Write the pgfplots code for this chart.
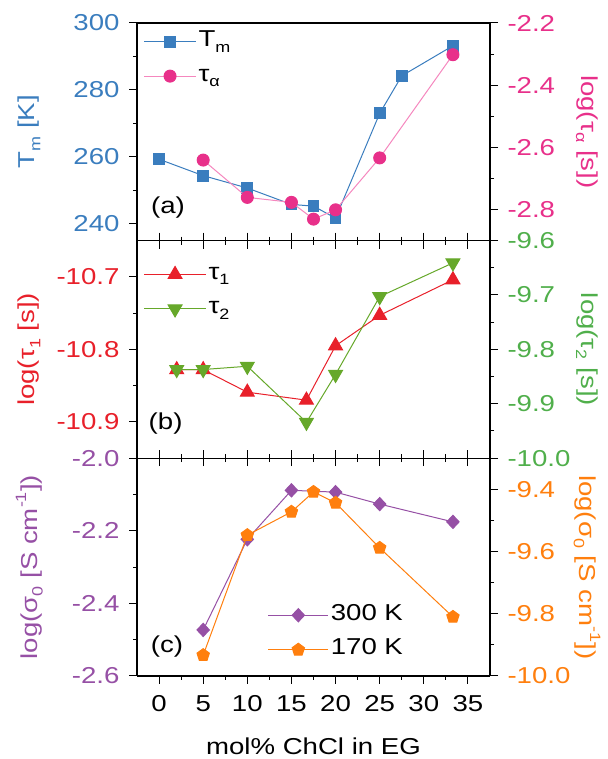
\documentclass[border=0pt]{standalone}
\usepackage{fontspec}
\setmainfont[FakeStretch=1.2]{Liberation Sans}
\usepackage{pgfplots}
\pgfplotsset{compat=1.18}

\definecolor{cTm}{RGB}{58,125,190}
\definecolor{cTa}{RGB}{232,48,138}
\definecolor{cTaL}{RGB}{245,135,190}
\definecolor{cT1}{RGB}{232,32,42}
\definecolor{cT2}{RGB}{102,168,42}
\definecolor{cT2t}{RGB}{80,175,75}
\definecolor{cPu}{RGB}{150,80,165}
\definecolor{cOr}{RGB}{255,127,14}

\newcommand\bigf{\fontsize{23}{27}\selectfont}
\newcommand\sub[1]{\raisebox{-0.45ex}{\fontsize{15}{17}\selectfont #1}}
\newcommand\sups[1]{\raisebox{0.9ex}{\fontsize{15}{17}\selectfont #1}}

\pgfplotsset{
  panel/.style={
    scale only axis, width=353pt, height=217.6pt,
    xmin=-2.5, xmax=37.5, xtick={0,5,...,35}, minor x tick num=1,
    minor y tick num=1,
    tick align=outside, major tick length=8pt, minor tick length=4pt,
    every tick/.style={black, line width=1pt},
    axis line style={line width=1.1pt},
    /pgf/number format/assume math mode=true,
    tick label style={font=\bigf},
    xticklabel style={yshift=-8pt},
    every axis label/.append style={font=\bigf},
    legend style={draw=none, fill=none, font=\bigf, inner sep=0pt,
      row sep=8.5pt, nodes={inner sep=2pt, text height=16pt, text depth=6pt}},
    legend cell align=left,
  },
  leftax/.style={panel, axis y line*=left,
    yticklabel style={xshift=-6pt},
    every axis y label/.style={at={(axis description cs:-0.305,0.5)},
      anchor=center, rotate=90}},
  rightax/.style={panel, axis y line*=right, axis x line=none,
    yticklabel style={xshift=6pt},
    every axis y label/.style={at={(axis description cs:1.275,0.5)},
      anchor=center, rotate=-90}},
  onedec/.style={yticklabel style={/pgf/number format/fixed,
      /pgf/number format/fixed zerofill, /pgf/number format/precision=1}},
  legline/.style={legend image code/.code={
      \draw[mark repeat=2, mark phase=2, ##1] plot coordinates
        {(0pt,0pt) (#1,0pt) (2*#1,0pt)};}},
}

\pgfplotstableread{
x     Tm
0     259.3
5     254.4
10    250.7
15    245.8
17.5  245.3
20    241.7
25    273.0
27.5  284.2
33.3  293.2
}\tabTm

\pgfplotstableread{
x     ta
5     -2.641
10    -2.761
15    -2.777
17.5  -2.831
20    -2.801
25    -2.634
33.3  -2.302
}\tabTa

\pgfplotstableread{
x     t1       t2
2     -10.828  -9.837
5     -10.828  -9.837
10    -10.859  -9.831
16.7  -10.870  -9.934
20    -10.795  -9.846
25    -10.753  -9.703
33.3  -10.704  -9.641
}\tabTau

\pgfplotstableread{
x     s300
5     -2.473
10    -2.223
15    -2.088
20    -2.093
25    -2.126
33.3  -2.175
}\tabShot

\pgfplotstableread{
x     s170
5     -9.933
10    -9.547
15    -9.472
17.5  -9.408
20    -9.443
25    -9.588
33.3  -9.810
}\tabScold

\begin{document}
\begin{tikzpicture}
\useasboundingbox (0,0) rectangle (607pt,759pt);

% ---------- (a) melting temperature and alpha relaxation time ----------
\begin{axis}[leftax, at={(137pt,518.4pt)}, anchor=south west,
  xtick pos=bottom, xticklabels={},
  ymin=235, ymax=300, ytick={240,260,280,300},
  yticklabel style={color=cTm},
  ylabel={T\sub{m} [K]}, ylabel style={color=cTm}]
  \addplot[cTm, line width=1pt, mark=square*, mark size=5.4pt,
    mark options={fill=cTm, draw=cTm}] table[x=x, y=Tm] {\tabTm};
\end{axis}
\begin{axis}[rightax, at={(137pt,518.4pt)}, anchor=south west,
  ymin=-2.9, ymax=-2.2, ytick={-2.8,-2.6,-2.4,-2.2}, onedec,
  yticklabel style={color=cTa},
  ylabel={log(τ\sub{α} [s])}, ylabel style={color=cTa},
  legline=26pt,
  legend style={at={(axis description cs:0.018,0.975)}, anchor=north west}]
  \addlegendimage{cTm, line width=1pt, mark=square*, mark size=5.4pt,
    mark options={fill=cTm, draw=cTm}}
  \addlegendentry{T\sub{m}}
  \addplot[cTaL, line width=1pt, mark=*, mark size=6pt,
    mark options={fill=cTa, draw=cTa}] table[x=x, y=ta] {\tabTa};
  \addlegendentry{τ\sub{α}}
  \node[font=\bigf] at (axis description cs:0.088,0.15) {(a)};
\end{axis}

% ---------- (b) fast relaxation times ----------
\begin{axis}[leftax, at={(137pt,300.8pt)}, anchor=south west,
  xticklabels={},
  ymin=-10.95, ymax=-10.65, ytick={-10.9,-10.8,-10.7}, onedec,
  yticklabel style={color=cT1},
  ylabel={log(τ\sub{1} [s])}, ylabel style={color=cT1}]
  \addplot[cT1, line width=1pt, mark=triangle*, mark size=8pt,
    mark options={fill=cT1, draw=cT1}] table[x=x, y=t1] {\tabTau};
\end{axis}
\begin{axis}[rightax, at={(137pt,300.8pt)}, anchor=south west,
  ymin=-10.0, ymax=-9.6, ytick={-10.0,-9.9,-9.8,-9.7,-9.6}, onedec,
  yticklabel style={color=cT2t},
  ylabel={log(τ\sub{2} [s])}, ylabel style={color=cT2t},
  legline=31pt,
  legend style={at={(axis description cs:0.018,0.905)}, anchor=north west}]
  \addlegendimage{cT1, line width=1pt, mark=triangle*, mark size=8pt,
    mark options={fill=cT1, draw=cT1}}
  \addlegendentry{τ\sub{1}}
  \addplot[cT2, line width=1pt, mark=triangle*, mark size=8pt,
    mark options={fill=cT2, draw=cT2, rotate=180}] table[x=x, y=t2] {\tabTau};
  \addlegendentry{τ\sub{2}}
  \node[font=\bigf] at (axis description cs:0.081,0.159) {(b)};
\end{axis}

% ---------- (c) dc conductivity ----------
\begin{axis}[leftax, at={(137pt,83pt)}, anchor=south west,
  ymin=-2.6, ymax=-2.0, ytick={-2.6,-2.4,-2.2,-2.0}, onedec,
  yticklabel style={color=cPu},
  ylabel={log(σ\sub{0} [S cm\sups{-1}])}, ylabel style={color=cPu},
  xlabel={mol\% ChCl in EG},
  xlabel style={at={(axis description cs:0.5,-0.325)}, anchor=center}]
  \addplot[cPu, line width=1pt, mark=diamond*, mark size=6.6pt,
    mark options={fill=cPu, draw=cPu, xscale=1.25}] table[x=x, y=s300] {\tabShot};
\end{axis}
\begin{axis}[rightax, at={(137pt,83pt)}, anchor=south west,
  ymin=-10.0, ymax=-9.3, ytick={-10.0,-9.8,-9.6,-9.4}, onedec,
  yticklabel style={color=cOr},
  ylabel={log(σ\sub{0} [S cm\sups{-1}])}, ylabel style={color=cOr},
  legline=30pt,
  legend style={at={(axis description cs:0.37,0.06)}, anchor=south west}]
  \addlegendimage{cPu, line width=1pt, mark=diamond*, mark size=6.6pt,
    mark options={fill=cPu, draw=cPu, xscale=1.25}}
  \addlegendentry{300 K}
  \addplot[cOr, line width=1pt, mark=pentagon*, mark size=6.5pt,
    mark options={fill=cOr, draw=cOr}] table[x=x, y=s170] {\tabScold};
  \addlegendentry{170 K}
  \node[font=\bigf] at (axis description cs:0.085,0.135) {(c)};
\end{axis}
\end{tikzpicture}
\end{document}
